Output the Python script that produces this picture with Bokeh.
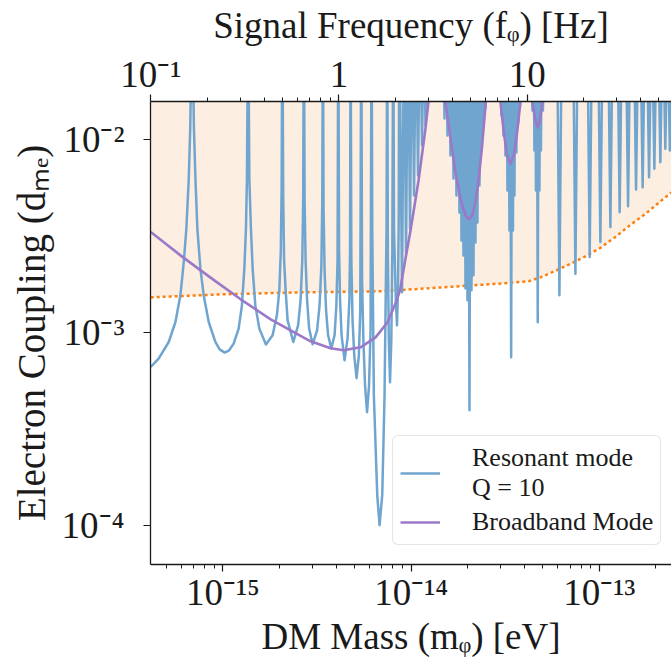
from bokeh.plotting import figure
from bokeh.models import (Range1d, LogAxis, LogScale, FixedTicker,
                          CustomJSTickFormatter, Legend, LegendItem)
from bokeh.embed import file_html
from bokeh.resources import INLINE

# ---------------- data ----------------
PK = 0.05  # anti-resonance: curve leaves the top of the chart

# Resonant mode, Q = 10 : wide low-mass lobes
res_wide_mass = [
    4.13e-16, 4.55e-16, 5.15e-16, 5.59e-16, 5.94e-16, 6.19e-16, 6.39e-16, 6.58e-16, 6.70e-16, 6.85e-16,
    7.01e-16, 7.14e-16, 7.31e-16, 7.59e-16, 7.90e-16, 8.40e-16, 9.11e-16, 9.605e-16, 1.021e-15, 1.079e-15,
    1.140e-15, 1.212e-15,
    1.261e-15, 1.299e-15, 1.325e-15, 1.341e-15, 1.361e-15,
    1.381e-15, 1.408e-15, 1.438e-15, 1.486e-15, 1.561e-15, 1.692e-15, 1.836e-15, 1.935e-15, 1.993e-15,
    2.030e-15, 2.050e-15, 2.068e-15,
    2.091e-15, 2.113e-15, 2.153e-15, 2.206e-15, 2.365e-15, 2.508e-15, 2.585e-15, 2.640e-15, 2.669e-15, 2.692e-15,
    2.716e-15, 2.749e-15, 2.800e-15, 2.870e-15, 2.995e-15, 3.164e-15, 3.262e-15, 3.335e-15, 3.372e-15, 3.397e-15,
    3.426e-15, 3.468e-15, 3.532e-15, 3.620e-15, 3.764e-15, 3.919e-15, 4.006e-15, 4.065e-15, 4.100e-15,
    4.141e-15, 4.192e-15, 4.270e-15, 4.429e-15, 4.594e-15, 4.697e-15, 4.737e-15, 4.766e-15,
    4.813e-15, 4.884e-15, 4.987e-15, 5.129e-15, 5.276e-15, 5.367e-15, 5.433e-15,
    5.486e-15, 5.574e-15, 5.691e-15, 5.832e-15, 5.976e-15, 6.087e-15, 6.162e-15,
    6.215e-15, 6.338e-15, 6.607e-15, 6.795e-15, 7.023e-15, 7.223e-15, 7.401e-15, 7.465e-15,
    7.520e-15, 7.612e-15, 7.724e-15, 7.848e-15, 7.946e-15, 8.033e-15,
    8.112e-15, 8.292e-15, 8.414e-15, 8.518e-15, 8.591e-15, 8.654e-15,
]
res_wide_coupling = [
    6.61e-4, 7.31e-4, 8.91e-4, 1.131e-3, 1.555e-3, 2.313e-3, 3.446e-3, 6.257e-3, 1.140e-2, PK,
    1.140e-2, 6.257e-3, 3.446e-3, 2.138e-3, 1.555e-3, 1.131e-3, 8.91e-4, 8.16e-4, 7.85e-4, 8.07e-4,
    8.74e-4, 1.045e-3,
    1.380e-3, 2.138e-3, 3.446e-3, 6.257e-3, PK,
    6.257e-3, 3.446e-3, 2.138e-3, 1.380e-3, 1.045e-3, 8.64e-4, 9.65e-4, 1.225e-3, 1.651e-3,
    2.660e-3, 5.441e-3, PK,
    4.83e-3, 2.360e-3, 1.651e-3, 1.154e-3, 8.91e-4, 1.087e-3, 1.465e-3, 2.360e-3, 4.83e-3, PK,
    4.83e-3, 2.360e-3, 1.465e-3, 1.049e-3, 8.67e-4, 1.024e-3, 1.380e-3, 2.224e-3, 4.83e-3, PK,
    4.286e-3, 2.095e-3, 1.300e-3, 9.65e-4, 8.26e-4, 9.65e-4, 1.380e-3, 2.360e-3, PK,
    2.660e-3, 1.465e-3, 9.65e-4, 7.16e-4, 9.31e-4, 1.465e-3, 2.660e-3, PK,
    2.360e-3, 1.154e-3, 7.60e-4, 5.78e-4, 7.60e-4, 1.300e-3, PK,
    1.860e-3, 9.09e-4, 5.31e-4, 3.85e-4, 5.31e-4, 1.024e-3, PK,
    3.458e-3, 4.72e-4, 1.43e-4, 1.0e-4, 1.43e-4, 4.72e-4, 3.458e-3, PK,
    2.660e-3, 9.09e-4, 5.51e-4, 9.09e-4, 2.660e-3, PK,
    3.377e-3, 1.465e-3, 1.087e-3, 1.651e-3, 3.80e-3, PK,
]

# dense resonance combs
res_comb1_mass = [8.948e-15, 9.169e-15, 9.396e-15, 9.627e-15, 9.867e-15, 1.011e-14, 1.036e-14,
                  1.062e-14, 1.088e-14, 1.115e-14, 1.143e-14, 1.168e-14, 1.192e-14, 1.222e-14]
res_comb1_coupling = [1.612e-3, PK, 2.597e-3, PK, 3.458e-3, PK, 5.127e-3,
                      PK, 6.508e-3, PK, 9.31e-3, PK, 1.182e-2, PK]

res_comb2_mass = [1.468e-14, 1.505e-14, 1.532e-14, 1.561e-14, 1.590e-14, 1.619e-14, 1.649e-14, 1.680e-14,
                  1.711e-14, 1.742e-14, 1.775e-14, 1.807e-14, 1.829e-14, 1.852e-14, 1.875e-14, 1.898e-14,
                  1.921e-14, 1.945e-14, 1.969e-14, 1.993e-14, 2.017e-14, 2.042e-14, 2.067e-14, 2.093e-14,
                  2.119e-14, 2.145e-14, 2.171e-14, 2.198e-14, 2.225e-14, 2.252e-14, 2.280e-14, 2.308e-14,
                  2.336e-14, 2.365e-14, 2.394e-14, 2.424e-14, 2.453e-14, 2.484e-14, 2.545e-14]
res_comb2_coupling = [PK, 1.285e-2, PK, 1.049e-2, PK, 8.26e-3, PK, 6.28e-3,
                      PK, 5.13e-3, PK, 4.185e-3, PK, 2.997e-3, PK, 2.506e-3,
                      PK, 1.690e-3, PK, 1.465e-3, PK, 3.944e-4, PK, 1.651e-3,
                      PK, 1.974e-3, PK, 2.926e-3, PK, 3.714e-3, PK, 5.778e-3,
                      PK, 8.77e-3, PK, 1.182e-2, PK, 1.447e-2, PK]

res_comb3_mass = [2.948e-14, 3.021e-14, 3.058e-14, 3.096e-14, 3.133e-14, 3.172e-14, 3.211e-14, 3.251e-14,
                  3.290e-14, 3.331e-14, 3.363e-14, 3.401e-14, 3.438e-14, 3.477e-14, 3.506e-14, 3.541e-14,
                  3.584e-14, 3.628e-14, 3.673e-14, 3.718e-14, 3.754e-14, 3.786e-14, 3.881e-14]
res_comb3_coupling = [PK, 1.332e-2, PK, 1.049e-2, PK, 8.26e-3, PK, 5.441e-3,
                      PK, 3.377e-3, PK, 7.42e-4, PK, 3.377e-3, PK, 5.127e-3,
                      PK, 8.56e-3, PK, 1.225e-2, PK, 1.500e-2, PK]

res_comb4_mass = [4.306e-14, 4.413e-14, 4.467e-14, 4.522e-14, 4.566e-14, 4.606e-14, 4.657e-14, 4.709e-14,
                  4.760e-14, 4.807e-14, 4.854e-14, 4.896e-14, 4.956e-14, 5.017e-14, 5.173e-14]
res_comb4_coupling = [PK, 1.413e-2, PK, 8.77e-3, PK, 5.441e-3, PK, 1.127e-3,
                      PK, 5.441e-3, PK, 8.77e-3, PK, 1.413e-2, PK]

# narrow single resonances at high mass
res_spike_mass = [5.954e-14, 6.139e-14, 6.330e-14, 7.242e-14, 7.467e-14, 7.699e-14,
                  8.624e-14, 8.892e-14, 9.169e-14, 9.828e-14, 1.0134e-13, 1.0449e-13,
                  1.1110e-13, 1.1455e-13, 1.1811e-13, 1.2447e-13, 1.2834e-13, 1.3233e-13,
                  1.3794e-13, 1.4223e-13, 1.4665e-13, 1.5211e-13, 1.5684e-13, 1.6172e-13,
                  1.6488e-13, 1.7001e-13, 1.7530e-13, 1.7834e-13, 1.8389e-13, 1.8961e-13,
                  1.9027e-13, 1.9619e-13, 2.0229e-13, 2.0474e-13, 2.1111e-13, 2.1768e-13,
                  2.1762e-13, 2.2439e-13, 2.3137e-13, 2.2999e-13, 2.3714e-13, 2.4451e-13]
res_spike_coupling = [PK, 1.555e-3, PK, PK, 2.014e-3, PK,
                      PK, 2.456e-3, PK, PK, 2.937e-3, PK,
                      PK, 3.512e-3, PK, PK, 4.200e-3, PK,
                      PK, 4.512e-3, PK, PK, 5.506e-3, PK,
                      PK, 5.659e-3, PK, PK, 6.378e-3, PK,
                      PK, 7.05e-3, PK, PK, 7.63e-3, PK,
                      PK, 8.95e-3, PK, PK, 8.77e-3, PK]

# Broadband mode
bb_mass = [4.13e-16, 6.04e-16, 7.61e-16, 9.15e-16, 1.242e-15, 1.792e-15, 2.288e-15, 2.922e-15, 3.733e-15,
           4.375e-15, 5.387e-15, 6.472e-15, 7.492e-15, 8.263e-15, 8.730e-15, 9.339e-15, 9.927e-15,
           1.095e-14, 1.192e-14, 1.237e-14, 1.348e-14,
           1.523e-14, 1.619e-14, 1.721e-14, 1.829e-14, 1.945e-14, 2.025e-14, 2.112e-14, 2.198e-14,
           2.288e-14, 2.385e-14, 2.484e-14, 2.706e-14,
           2.984e-14, 3.108e-14, 3.239e-14, 3.372e-14, 3.511e-14, 3.660e-14, 3.811e-14, 4.101e-14,
           4.413e-14, 4.578e-14, 4.709e-14, 4.836e-14, 4.985e-14, 5.499e-14]
bb_coupling = [3.317e-3, 2.476e-3, 2.095e-3, 1.838e-3, 1.483e-3, 1.168e-3, 1.024e-3, 8.98e-4, 8.26e-4,
               8.07e-4, 8.36e-4, 9.42e-4, 1.127e-3, 1.413e-3, 1.651e-3, 2.418e-3, 3.377e-3,
               6.13e-3, 1.140e-2, 1.573e-2, PK,
               1.561e-2, 1.008e-2, 6.77e-3, 4.93e-3, 4.04e-3, 3.85e-3, 4.04e-3, 4.73e-3,
               6.257e-3, 9.31e-3, 1.500e-2, PK,
               1.561e-2, 1.091e-2, 8.26e-3, 7.48e-3, 8.26e-3, 1.091e-2, 1.561e-2, PK,
               1.561e-2, 1.254e-2, 1.154e-2, 1.254e-2, 1.561e-2, PK]

# existing limit (lower edge of shaded region)
lim_mass = [4.13e-16, 9.72e-16, 2.585e-15, 6.878e-15, 1.619e-14, 3.372e-14, 4.202e-14, 4.867e-14,
            5.847e-14, 7.022e-14, 8.437e-14, 1.0134e-13, 1.2175e-13, 1.463e-13, 1.757e-13,
            2.1111e-13, 2.4155e-13]
lim_coupling = [1.518e-3, 1.573e-3, 1.612e-3, 1.632e-3, 1.721e-3, 1.805e-3, 1.838e-3, 1.928e-3,
                2.083e-3, 2.263e-3, 2.476e-3, 2.740e-3, 3.125e-3, 3.606e-3, 4.111e-3,
                4.773e-3, 5.312e-3]

x_ticks = [1e-15, 1e-14, 1e-13]
y_ticks = [1e-4, 1e-3, 1e-2]
f_ticks = [0.1, 1, 10]

H_PLANCK = 4.135667e-15  # eV s
X0, X1 = 4.12e-16, 2.42e-13
Y0, Y1 = 6.25e-5, 1.574e-2

# ---------------- figure ----------------
FONT = "Liberation Serif"
INK = "#1a1a1a"

p = figure(width=671, height=664, x_axis_type="log", y_axis_type="log",
           x_range=Range1d(X0, X1), y_range=Range1d(Y0, Y1),
           output_backend="svg", toolbar_location=None,
           min_border_left=150, min_border_right=0, min_border_top=101, min_border_bottom=100)
p.outline_line_color = None
p.xgrid.visible = False
p.ygrid.visible = False
p.extra_x_ranges = {"freq": Range1d(X0 / H_PLANCK, X1 / H_PLANCK)}
p.extra_x_scales = {"freq": LogScale()}
top_axis = LogAxis(x_range_name="freq")
p.add_layout(top_axis, "above")
bottom_axis = p.below[0]
left_axis = p.left[0]

sup_js = """
const m = {"-":"\u207b","0":"\u2070","1":"\u00b9","2":"\u00b2","3":"\u00b3","4":"\u2074",
           "5":"\u2075","6":"\u2076","7":"\u2077","8":"\u2078","9":"\u2079"};
const e = Math.round(Math.log10(tick));
if (e === 0) return "1";
if (e === 1) return "10";
return "10" + String(e).split("").map(c => m[c]).join("");
"""


def minors(lo, hi):
    out = []
    for d in range(lo, hi + 1):
        for k in range(2, 10):
            out.append(k * 10.0 ** d)
    return out


def style(ax, ticks, minor, label, standoff, label_standoff, label_size="37px"):
    ax.ticker = FixedTicker(ticks=ticks, minor_ticks=minor)
    ax.formatter = CustomJSTickFormatter(code=sup_js)
    ax.axis_label = label
    ax.major_label_text_font = FONT
    ax.major_label_text_font_size = "37px"
    ax.major_label_text_color = INK
    ax.axis_label_text_font = FONT
    ax.axis_label_text_font_size = label_size
    ax.axis_label_text_font_style = "normal"
    ax.axis_label_text_color = INK
    ax.axis_line_color = INK
    ax.axis_line_width = 1.3
    ax.major_tick_line_color = INK
    ax.minor_tick_line_color = INK
    ax.major_tick_line_width = 1.2
    ax.minor_tick_line_width = 1.0
    ax.major_tick_out = 7
    ax.major_tick_in = 0
    ax.minor_tick_out = 4
    ax.minor_tick_in = 0
    ax.major_label_standoff = standoff
    ax.axis_label_standoff = label_standoff


style(bottom_axis, x_ticks, minors(-16, -13), "DM Mass (m\u1d69) [eV]", 0, 0)
style(left_axis, y_ticks, [], "Electron Coupling (d\u2098\u2091)", 19, 6, label_size="39px")
style(top_axis, f_ticks, minors(-1, 1), "Signal Frequency (f\u1d69) [Hz]", 0, 5)

# shaded excluded region
p.varea(x=lim_mass, y1=lim_coupling, y2=[PK] * len(lim_mass), fill_color="#fdeee2", fill_alpha=1.0)
p.line(lim_mass, lim_coupling, line_color="#ff7f0e", line_width=2.5, line_dash="3 3")

res_mass = res_wide_mass + res_comb1_mass + res_comb2_mass + res_comb3_mass + res_comb4_mass + res_spike_mass
res_coupling = (res_wide_coupling + res_comb1_coupling + res_comb2_coupling + res_comb3_coupling
                + res_comb4_coupling + res_spike_coupling)
blue = p.line(res_mass, res_coupling, line_color="#6fa5cf", line_width=2.5, line_join="round")
purple = p.line(bb_mass, bb_coupling, line_color="#9b78c8", line_width=2.6, line_join="round")

legend = Legend(items=[LegendItem(label="Resonant mode\nQ = 10", renderers=[blue]),
                       LegendItem(label="Broadband Mode", renderers=[purple])],
                location=(242, 19))
legend.label_text_font = FONT
legend.label_text_font_size = "26px"
legend.label_text_line_height = 1.05
legend.label_text_color = INK
legend.glyph_width = 40
legend.glyph_height = 22
legend.label_standoff = 32
legend.padding = 7
legend.spacing = 4
legend.margin = 0
legend.border_line_color = "#cccccc"
legend.border_line_width = 1.2
legend.background_fill_color = "white"
legend.background_fill_alpha = 0.85
try:
    legend.border_radius = 6
except Exception:
    pass
p.add_layout(legend)

open("out.html", "w").write(file_html(p, INLINE))
